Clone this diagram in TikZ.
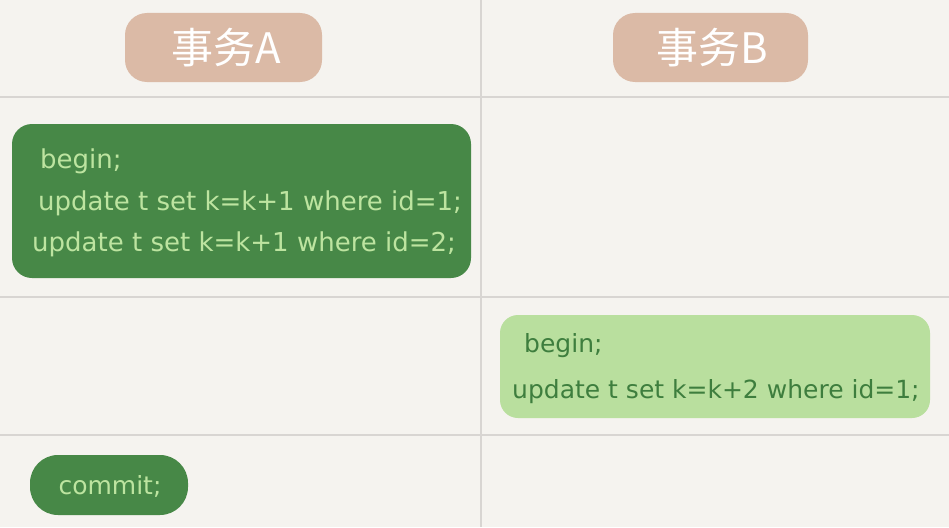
\documentclass[tikz,border=0pt]{standalone}
\usepackage{fontspec}
\setmainfont{DejaVu Sans}
\newfontfamily\cjk{Noto Sans CJK SC}
\definecolor{bgc}{HTML}{F5F3EF}
\definecolor{gridc}{HTML}{D8D5D2}
\definecolor{tan}{HTML}{DBBAA6}
\definecolor{dkgreen}{HTML}{478847}
\definecolor{ltgreen}{HTML}{B9DF9E}
\definecolor{txtlight}{HTML}{BDE4A0}
\definecolor{txtdark}{HTML}{3E7E3E}
\begin{document}
\begin{tikzpicture}[x=1pt,y=-1pt,
  gridline/.style={draw=gridc,line width=2pt},
  header/.style={fill=tan,rounded corners=22pt},
  htext/.style={text=white,font=\cjk\fontsize{42}{42}\selectfont},
  darkbox/.style={fill=dkgreen,rounded corners=20pt},
  lightbox/.style={fill=ltgreen,rounded corners=18pt},
  codeL/.style={anchor=base west,text=txtlight,font=\fontsize{26}{26}\selectfont,inner sep=0pt},
  codeD/.style={anchor=base west,text=txtdark,font=\fontsize{25}{25}\selectfont,inner sep=0pt}
]
\fill[bgc] (0,0) rectangle (949,527);
\useasboundingbox (0,0) rectangle (949,527);
% grid
\coordinate (vt) at (481,0); \coordinate (vb) at (481,527);
\coordinate (h1l) at (0,97); \coordinate (h1r) at (949,97);
\coordinate (h2l) at (0,297); \coordinate (h2r) at (949,297);
\coordinate (h3l) at (0,435); \coordinate (h3r) at (949,435);
\draw[gridline] (vt) -- (vb);
\draw[gridline] (h1l) -- (h1r);
\draw[gridline] (h2l) -- (h2r);
\draw[gridline] (h3l) -- (h3r);
% headers
\path[header] (125,13) rectangle (322,82);
\node[htext] (ha) at (226,48) {事务A};
\path[header] (613,13) rectangle (808,82);
\node[htext] (hb) at (712,48) {事务B};
% box A
\path[darkbox] (12,124) rectangle (471,278);
\node[codeL] (a1) at (40,168) {begin;};
\node[codeL] (a2) at (38,210) {update t set k=k+1 where id=1;};
\node[codeL] (a3) at (32,251) {update t set k=k+1 where id=2;};
% box B
\path[lightbox] (500,315) rectangle (930,418);
\node[codeD] (b1) at (524,352) {begin;};
\node[codeD] (b2) at (512,398) {update t set k=k+2 where id=1;};
% commit
\path[darkbox,rounded corners=28pt] (30,455) rectangle (188,515);
\node[codeL,anchor=center,font=\fontsize{25}{25}\selectfont] (c1) at (110,486) {commit;};
\end{tikzpicture}
\end{document}
